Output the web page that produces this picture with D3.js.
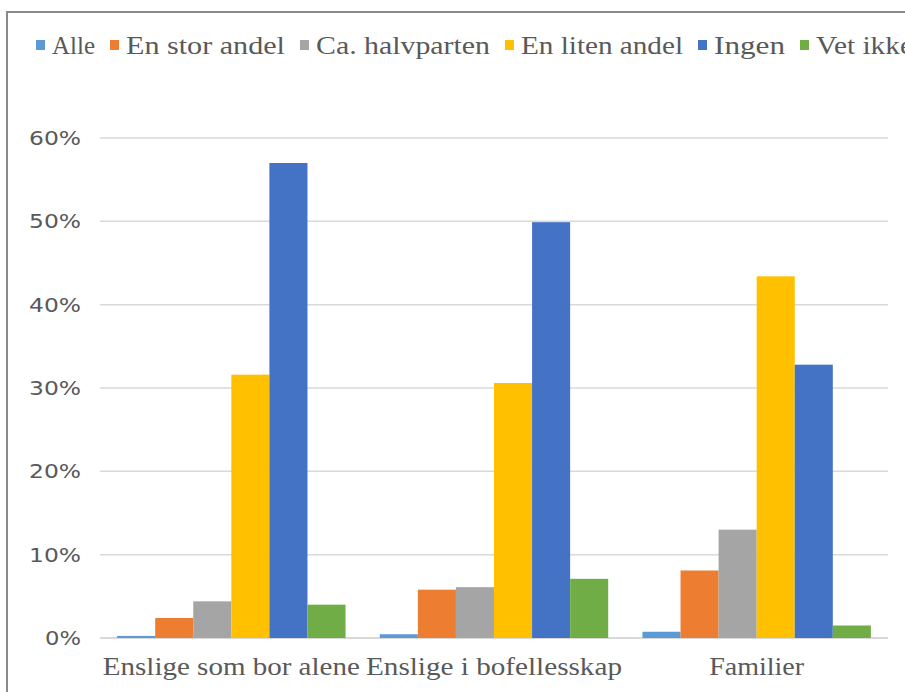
<!DOCTYPE html>
<html><head><meta charset="utf-8">
<script src="https://cdn.jsdelivr.net/npm/d3@7/dist/d3.min.js"></script>
<style>body{margin:0;background:#fff;overflow:hidden}svg{display:block}</style>
</head><body>
<svg id="c" width="905" height="692"></svg>
<script>
const categories = ["Enslige som bor alene", "Enslige i bofellesskap", "Familier"];
const seriesNames = ["Alle", "En stor andel", "Ca. halvparten", "En liten andel", "Ingen", "Vet ikke"];
const alle        = [0.25, 0.45, 0.75];
const enStorAndel = [2.4, 5.8, 8.1];
const caHalvparten= [4.4, 6.1, 13.0];
const enLitenAndel= [31.6, 30.6, 43.4];
const ingen       = [57.0, 49.9, 32.8];
const vetIkke     = [4.0, 7.1, 1.5];
const yTicks = [0, 10, 20, 30, 40, 50, 60];
const colors = ["#5B9BD5", "#ED7D31", "#A5A5A5", "#FFC000", "#4472C4", "#70AD47"];

(function () {
const series = [alle, enStorAndel, caHalvparten, enLitenAndel, ingen, vetIkke];
const svg = d3.select("#c");
const serif = "'Liberation Serif', 'DejaVu Serif', serif";

// outer border
svg.append("path").attr("d", "M7,692 V12 H905").attr("fill", "none")
  .attr("stroke", "#8a8a8a").attr("stroke-width", 2);

const pLeft = 100, pRight = 888, pTop = 138, pBottom = 638;
const y = d3.scaleLinear().domain([0, 60]).range([pBottom, pTop]);
const x0 = d3.scaleBand().domain(categories).range([pLeft, pRight]).paddingInner(0).paddingOuter(0);
const x1 = d3.scaleBand().domain(seriesNames).range([0, x0.bandwidth()]).paddingInner(0).paddingOuter(0.45);

// gridlines
svg.append("g").selectAll("line").data(yTicks).join("line")
  .attr("x1", pLeft).attr("x2", pRight)
  .attr("y1", d => y(d)).attr("y2", d => y(d))
  .attr("stroke", "#d9d9d9").attr("stroke-width", d => d === 0 ? 2 : 1.5);

// y labels
svg.append("g").selectAll("text").data(yTicks).join("text")
  .attr("x", 81).attr("y", d => y(d)).attr("dy", "0.36em")
  .attr("text-anchor", "end")
  .attr("font-family", "'DejaVu Sans', sans-serif").attr("font-size", 19)
  .attr("fill", "#595959")
  .attr("textLength", d => d === 0 ? 36 : 52).attr("lengthAdjust", "spacingAndGlyphs")
  .text(d => d + "%");

// bars
const g = svg.append("g");
categories.forEach((cat, ci) => {
  seriesNames.forEach((s, si) => {
    const v = series[si][ci];
    g.append("rect")
      .attr("x", x0(cat) + x1(s))
      .attr("width", x1.bandwidth())
      .attr("y", y(v))
      .attr("height", y(0) - y(v))
      .attr("fill", colors[si]);
  });
});

// category labels
const catWidths = [257, 256, 95];
svg.append("g").selectAll("text").data(categories).join("text")
  .attr("x", d => x0(d) + x0.bandwidth() / 2).attr("y", 675)
  .attr("text-anchor", "middle")
  .attr("font-family", serif).attr("font-size", 25)
  .attr("fill", "#595959")
  .attr("textLength", (d, i) => catWidths[i]).attr("lengthAdjust", "spacingAndGlyphs")
  .text(d => d);

// legend
const legWidths = [43, 159, 174, 162, 71, 97];
let lx = 36;
const leg = svg.append("g");
seriesNames.forEach((s, i) => {
  leg.append("rect").attr("x", lx).attr("y", 40).attr("width", 9).attr("height", 10).attr("fill", colors[i]);
  leg.append("text").attr("x", lx + 16).attr("y", 54)
    .attr("font-family", serif).attr("font-size", 25)
    .attr("fill", "#595959")
    .attr("textLength", legWidths[i]).attr("lengthAdjust", "spacingAndGlyphs")
    .text(s);
  lx += 16 + legWidths[i] + 15;
});
})();
</script>
</body></html>
